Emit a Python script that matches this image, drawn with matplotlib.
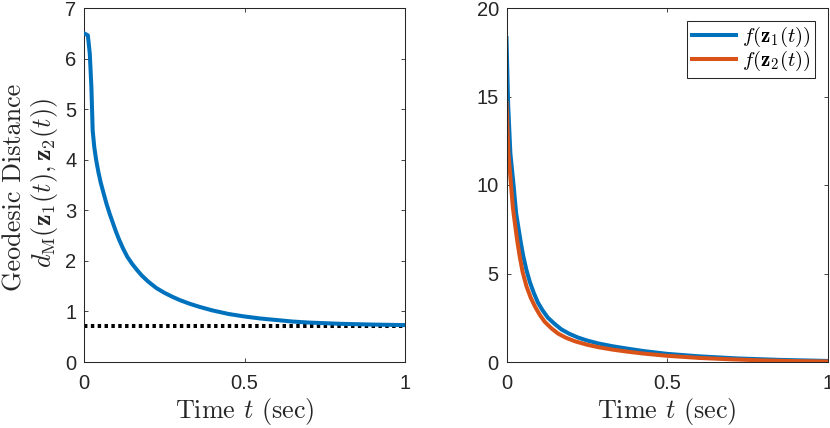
import matplotlib
matplotlib.use("Agg")
import matplotlib.pyplot as plt

plt.rcParams['mathtext.fontset'] = 'cm'
plt.rcParams['font.family'] = ['Liberation Sans', 'DejaVu Sans']

# ---- data ----
t_left = [0.0, 0.012, 0.018, 0.023, 0.027, 0.032, 0.038, 0.045, 0.052, 0.06, 0.07,
          0.08, 0.09, 0.1, 0.11, 0.122, 0.135, 0.15, 0.165, 0.18, 0.2, 0.226,
          0.25, 0.275, 0.3, 0.33, 0.36, 0.4, 0.45, 0.5, 0.55, 0.6, 0.65, 0.7,
          0.8, 0.9, 1.0]
d_left = [6.5, 6.46, 6.1, 5.44, 4.58, 4.25, 3.99, 3.75, 3.55, 3.36, 3.13,
          2.93, 2.75, 2.57, 2.41, 2.24, 2.08, 1.94, 1.82, 1.71, 1.59, 1.46,
          1.37, 1.29, 1.22, 1.15, 1.09, 1.02, 0.95, 0.9, 0.86, 0.83, 0.8, 0.78,
          0.755, 0.74, 0.73]
d_limit = 0.72

t_z1 = [0.0, 0.005, 0.012, 0.022, 0.03, 0.037, 0.045, 0.052, 0.062, 0.073, 0.085,
        0.098, 0.113, 0.129, 0.15, 0.171, 0.195, 0.223, 0.25, 0.285, 0.33, 0.378,
        0.43, 0.5, 0.6, 0.72, 0.85, 1.0]
f_z1 = [18.3, 14.6, 11.8, 10.0, 8.4, 7.6, 6.7, 6.0, 5.2, 4.5, 3.9,
        3.35, 2.9, 2.5, 2.15, 1.84, 1.6, 1.38, 1.22, 1.05, 0.89, 0.75,
        0.61, 0.46, 0.32, 0.2, 0.12, 0.06]
t_z2 = [0.0, 0.006, 0.014, 0.02, 0.026, 0.033, 0.041, 0.05, 0.062, 0.075, 0.088,
        0.103, 0.119, 0.14, 0.161, 0.185, 0.213, 0.25, 0.285, 0.33, 0.378, 0.43,
        0.5, 0.6, 0.7, 0.8, 0.9, 1.0]
f_z2 = [14.65, 11.8, 10.0, 8.7, 7.86, 6.9, 5.98, 5.1, 4.29, 3.65, 3.16,
        2.68, 2.27, 1.9, 1.6, 1.37, 1.17, 0.98, 0.84, 0.7, 0.58, 0.47,
        0.35, 0.23, 0.15, 0.09, 0.05, 0.03]

x_ticks = [0, 0.5, 1]
x_ticklabels = ['0', '0.5', '1']
y_ticks_left = [0, 1, 2, 3, 4, 5, 6, 7]
y_ticks_right = [0, 5, 10, 15, 20]

blue = '#0072BD'
orange = '#D95319'
axcol = '#262626'

W, H = 830, 428
fig = plt.figure(figsize=(W / 100, H / 100), dpi=100)
ax1 = fig.add_axes([84 / W, 1 - 362 / H, 321 / W, 354 / H])
ax2 = fig.add_axes([506.5 / W, 1 - 362 / H, 321.2 / W, 354 / H])

ax1.plot(t_left, d_left, color=blue, lw=2.9, solid_joinstyle='round', zorder=3)
ax1.plot([0, 1], [d_limit, d_limit], color='black', lw=2.9,
         linestyle=(0, (0.85, 0.85)), dash_capstyle='butt', zorder=2)

ax2.plot(t_z1, f_z1, color=blue, lw=2.9, solid_joinstyle='round', label=r'$f(\mathbf{z}_1(t))$')
ax2.plot(t_z2, f_z2, color=orange, lw=2.9, solid_joinstyle='round', label=r'$f(\mathbf{z}_2(t))$')

for ax, yt, ylim in ((ax1, y_ticks_left, (0, 7)), (ax2, y_ticks_right, (0, 20))):
    ax.set_xlim(0, 1)
    ax.set_ylim(*ylim)
    ax.set_xticks(x_ticks)
    ax.set_xticklabels(x_ticklabels)
    ax.set_yticks(yt)
    ax.tick_params(direction='in', length=2.8, width=0.6, color=axcol,
                   top=True, right=True, labelsize=14.5, labelcolor='#262626')
    ax.tick_params(axis='x', pad=8.5)
    ax.tick_params(axis='y', pad=5.5)
    for s in ax.spines.values():
        s.set_color(axcol)
        s.set_linewidth(0.75)
    ax.set_xlabel(r'Time $t$ (sec)', fontsize=18.8, family='cmr10', labelpad=2.2, color='#262626')

fig.text(15 / W, 1 - 187 / H, 'Geodesic Distance', rotation=90, ha='center', va='center',
         fontsize=18.8, family='cmr10', color='#262626')
fig.text(44 / W, 1 - 183 / H, r'$d_{\mathrm{M}}(\mathbf{z}_1(t),\mathbf{z}_2(t))$', rotation=90,
         ha='center', va='center', fontsize=18.8, color='#262626')

leg = ax2.legend(loc='upper right', fontsize=15, fancybox=False, framealpha=1,
                 edgecolor='#262626', handlelength=2.1, handletextpad=0.3,
                 borderpad=0.22, labelspacing=0.0, borderaxespad=0.6)
leg.get_frame().set_linewidth(0.75)

fig.savefig('out.png', dpi=100)
